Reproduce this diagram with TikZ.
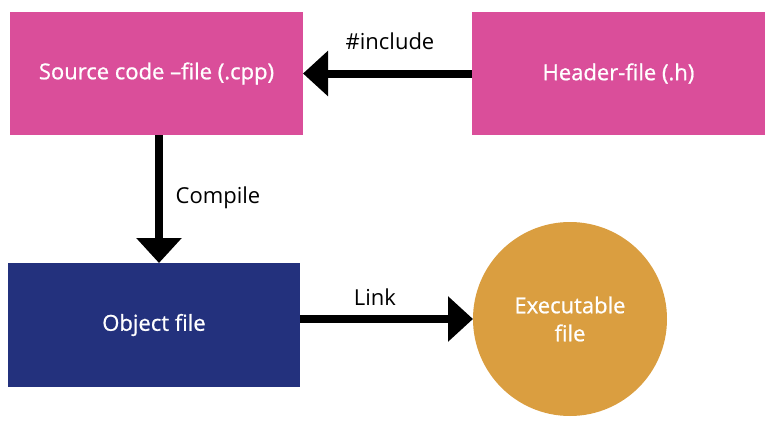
\documentclass[tikz,border=0pt]{standalone}
\usepackage{fontspec}
\setmainfont{Open Sans}
\newfontfamily\boxfont[FakeBold=0.8]{Open Sans}
\usetikzlibrary{arrows.meta}
\definecolor{srcpink}{HTML}{DA4E9A}
\definecolor{objblue}{HTML}{23317D}
\definecolor{exeorange}{HTML}{DA9E40}

\begin{document}
\begin{tikzpicture}[x=1pt, y=-1pt,
    box/.style={rectangle, minimum width=293pt, minimum height=123pt, outer sep=0pt, text=white, font=\boxfont\fontsize{22}{26}\selectfont},
    lbl/.style={font=\fontsize{22}{26}\selectfont},
    arr/.style={line width=8pt, -{Triangle[length=25pt, width=44pt]}}]
    \useasboundingbox (0,0) rectangle (780,429);

    \node[box, fill=srcpink] (src) at (156.5,73.5) {Source code –file (.cpp)};
    \node[box, fill=srcpink] (hdr) at (618.5,73.5) {Header-file (.h)};
    \node[box, fill=objblue, minimum width=292pt, minimum height=124pt] (obj) at (154,325) {Object file};
    \node[circle, fill=exeorange, minimum size=194pt, inner sep=0pt, outer sep=0pt, text=white, align=center,
          font=\boxfont\fontsize{22}{28}\selectfont] (exe) at (570,319) {Executable\\file};

    \node[lbl] (inc) at (390,41) {\#include};
    \node[lbl] (cmp) at (218,198) {Compile};
    \node[lbl] (lnk) at (375,297) {Link};

    \draw[arr] (hdr.west) -- (src.east);
    \draw[arr] (src.south -| 159,0) -- (obj.north -| 159,0);
    \draw[arr] (obj.east |- exe) -- (exe);
\end{tikzpicture}
\end{document}
